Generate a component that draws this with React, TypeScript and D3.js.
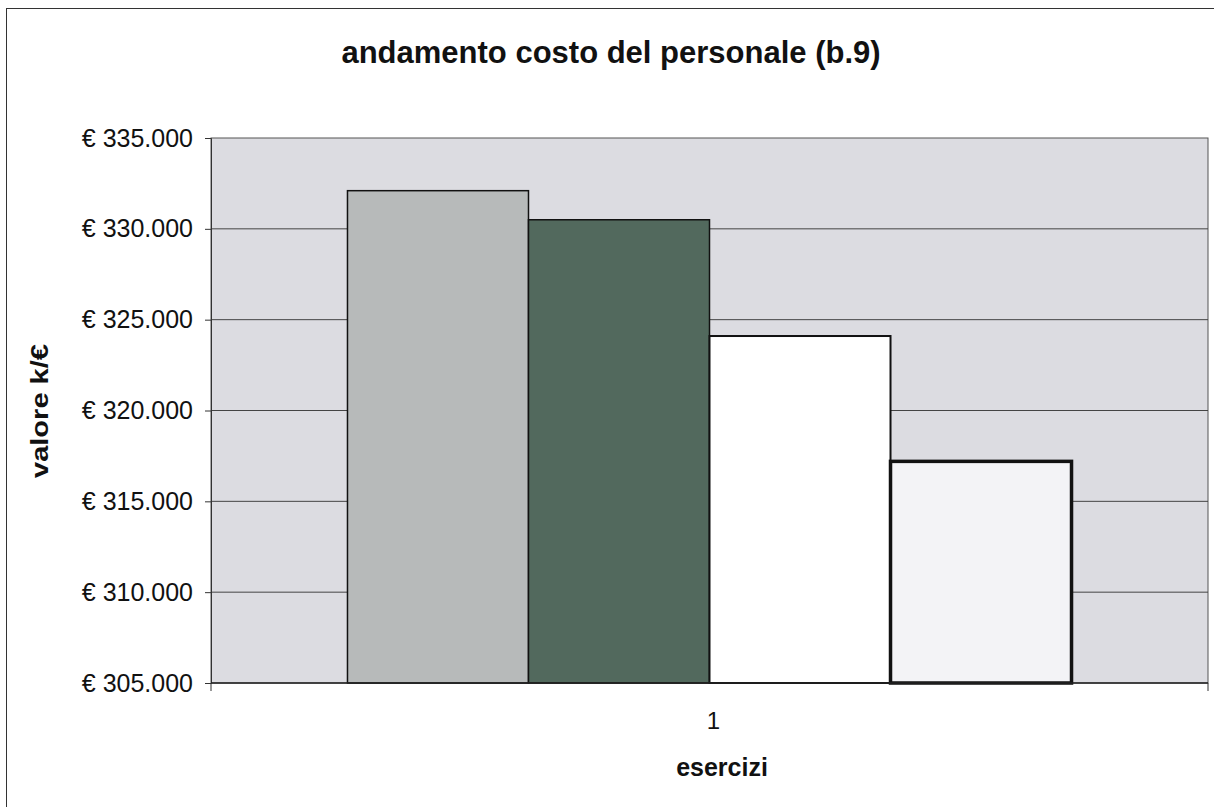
import { useEffect, useRef } from "react"
import * as d3 from "d3"

const categories = ["1"]
const series = ["s1", "s2", "s3", "s4"]
const values = [332100, 330500, 324100, 317200]
const yTicks = [305000, 310000, 315000, 320000, 325000, 330000, 335000]

const FILLS = ["#b7baba", "#52695d", "#ffffff", "#f3f3f6"]
const STROKES = [1.5, 1.5, 2, 3.5]

const W = 1214
const H = 807
const FONT = "'Liberation Sans', Arial, sans-serif"

export default function App() {
  const svgRef = useRef<SVGSVGElement>(null)

  useEffect(() => {
    if (!svgRef.current) return
    const svg = d3.select(svgRef.current)
    svg.selectAll("*").remove()

    const m = { left: 211, top: 138, right: 1208, bottom: 683 }

    // outer frame
    svg.append("rect").attr("x", 6.5).attr("y", 8.5).attr("width", W).attr("height", H)
      .attr("fill", "#fff").attr("stroke", "#333").attr("stroke-width", 1)

    const x0 = d3.scaleBand().domain(categories).range([m.left, m.right]).paddingInner(0).paddingOuter(0)
    const x1 = d3.scaleBand().domain(series).range([0, x0.bandwidth()]).paddingInner(0).paddingOuter(0.754)
    const y = d3.scaleLinear().domain([305000, 335000]).range([m.bottom, m.top])

    // plot area
    svg.append("rect").attr("x", m.left).attr("y", m.top).attr("width", m.right - m.left).attr("height", m.bottom - m.top)
      .attr("fill", "#dcdce1").attr("stroke", "#555").attr("stroke-width", 1)

    // gridlines
    svg.append("g").selectAll("line").data(yTicks.slice(1, -1)).join("line")
      .attr("x1", m.left).attr("x2", m.right)
      .attr("y1", (d) => y(d)).attr("y2", (d) => y(d))
      .attr("stroke", "#444").attr("stroke-width", 1)

    // bars
    const g = svg.append("g")
    categories.forEach((c) => {
      g.selectAll("rect.bar").data(values).join("rect").attr("class", "bar")
        .attr("x", (_, i) => (x0(c) as number) + (x1(series[i]) as number))
        .attr("width", x1.bandwidth())
        .attr("y", (d) => y(d))
        .attr("height", (d) => m.bottom - y(d))
        .attr("fill", (_, i) => FILLS[i])
        .attr("stroke", "#111")
        .attr("stroke-width", (_, i) => STROKES[i])
    })

    // y axis
    const yAxis = svg.append("g").attr("transform", `translate(${m.left},0)`)
      .call(d3.axisLeft(y).tickValues(yTicks).tickSize(6).tickPadding(12)
        .tickFormat((d) => "€ " + d3.format(",")(d as number).replace(/,/g, ".")))
    yAxis.select(".domain").attr("stroke", "#333")
    yAxis.selectAll("line").attr("stroke", "#333")
    yAxis.selectAll("text").attr("font-family", FONT).attr("font-size", 25).attr("fill", "#111")

    // x axis
    svg.append("line").attr("x1", m.left).attr("x2", m.right).attr("y1", m.bottom).attr("y2", m.bottom)
      .attr("stroke", "#222").attr("stroke-width", 1.5)
    svg.selectAll("line.xt").data([m.left, m.right]).join("line").attr("class", "xt")
      .attr("x1", (d) => d).attr("x2", (d) => d).attr("y1", m.bottom).attr("y2", m.bottom + 8)
      .attr("stroke", "#333")
    svg.selectAll("text.xl").data(categories).join("text").attr("class", "xl")
      .attr("x", (d) => (x0(d) as number) + x0.bandwidth() / 2 + 4)
      .attr("y", 729)
      .attr("text-anchor", "middle").attr("font-family", FONT).attr("font-size", 24).attr("fill", "#111")
      .text((d) => d)

    // titles
    svg.append("text").attr("x", 611).attr("y", 63).attr("text-anchor", "middle")
      .attr("font-family", FONT).attr("font-size", 31).attr("font-weight", "bold").attr("fill", "#111")
      .text("andamento costo del personale (b.9)")
    svg.append("text").attr("x", 722).attr("y", 776).attr("text-anchor", "middle")
      .attr("font-family", FONT).attr("font-size", 25).attr("font-weight", "bold").attr("fill", "#111")
      .text("esercizi")
    svg.append("text").attr("transform", `translate(48,411) rotate(-90)`)
      .attr("text-anchor", "middle")
      .attr("font-family", FONT).attr("font-size", 24).attr("font-weight", "bold").attr("fill", "#111")
      .attr("textLength", 134).attr("lengthAdjust", "spacingAndGlyphs")
      .text("valore k/€")
  }, [])

  return (
    <svg ref={svgRef} width={W} height={H} style={{ position: "absolute", left: 0, top: 0, background: "#fff" }} />
  )
}
